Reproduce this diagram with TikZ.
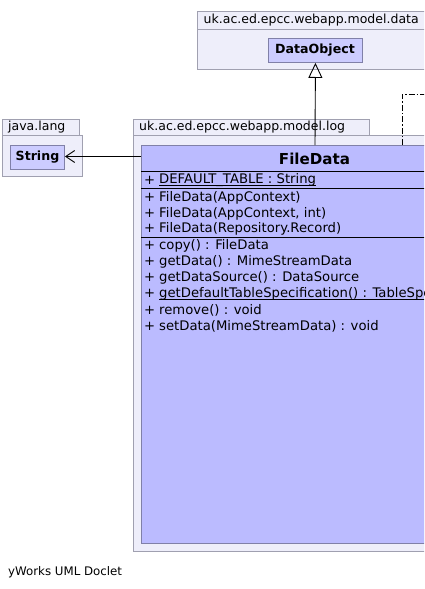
\documentclass[tikz,border=0pt]{standalone}
\usepackage{fontspec}
\setmainfont{DejaVu Sans}
\usetikzlibrary{arrows.meta}
\definecolor{pkgfill}{RGB}{238,238,250}
\definecolor{pkgdraw}{RGB}{160,160,176}
\definecolor{clsfill}{RGB}{187,187,255}
\definecolor{clsfillb}{RGB}{204,204,255}
\definecolor{clsdraw}{RGB}{128,128,168}
\tikzset{
  pkgbox/.style={draw=pkgdraw,fill=pkgfill,line width=0.8pt,anchor=north west,inner sep=0pt},
  pkgtab/.style={draw=pkgdraw,fill=pkgfill,line width=0.8pt,anchor=north west,inner sep=0pt},
  clsbox/.style={draw=clsdraw,fill=clsfillb,line width=0.9pt,anchor=north west,inner sep=0pt},
  bigcls/.style={draw=clsdraw,fill=clsfill,line width=0.9pt,anchor=north west,inner sep=0pt},
  clsname/.style={inner sep=0pt,font=\fontsize{12.6}{15}\selectfont\bfseries},
  txt/.style={anchor=west,inner sep=0pt,font=\fontsize{13.2}{16}\selectfont},
  pkgtxt/.style={anchor=west,inner sep=0pt,font=\fontsize{12.5}{15}\selectfont},
  foottxt/.style={anchor=west,inner sep=0pt,font=\fontsize{11.8}{14}\selectfont},
  sep/.style={line width=0.9pt,black},
  uline/.style={line width=0.8pt,black}
}
\newcommand{\pl}{\makebox[15pt][l]{+}}
\begin{document}
\begin{tikzpicture}[x=1pt,y=-1pt]
\useasboundingbox (0,0) rectangle (424,589);
\clip (0,0) rectangle (424,589);
% package model.data
\node[pkgbox,minimum width=260pt,minimum height=58pt] (pdata) at (197,11) {};
\draw[draw=pkgdraw,line width=0.8pt] (197,29) -- (460,29);
\node[pkgtxt] (pdatat) at (203.5,20) {uk.ac.ed.epcc.webapp.model.data};
\node[clsbox,minimum width=94pt,minimum height=24pt] (dobj) at (268,38) {};
\node[clsname] (dobjt) at (315,50) {DataObject};
% package java.lang
\node[pkgbox,minimum width=80pt,minimum height=41pt] (plang) at (2,135) {};
\node[pkgtab,minimum width=77pt,minimum height=16pt] (plangtab) at (2,119) {};
\node[pkgtxt] (plangt) at (8,127.5) {java.lang};
\node[clsbox,minimum width=54pt,minimum height=24pt] (str) at (10,145) {};
\node[clsname] (strt) at (37.5,157) {String};
% package model.log
\node[pkgbox,minimum width=320pt,minimum height=416pt] (plog) at (133,135) {};
\node[pkgtab,minimum width=236pt,minimum height=16pt] (plogtab) at (133,119) {};
\node[pkgtxt] (plogt) at (139,127.5) {uk.ac.ed.epcc.webapp.model.log};
% FileData
\node[bigcls,minimum width=310pt,minimum height=398pt] (fd) at (141,145) {};
\node[font=\fontsize{15.1}{18}\selectfont\bfseries,inner sep=0pt] (fdt) at (314.5,158.5) {FileData};
\draw[sep] (141,171) -- (452,171);
\node[txt] (a1p) at (144,180.5) {+};
\node[txt] (a1) at (159,180.5) {DEFAULT\_TABLE : String};
\draw[uline] ([yshift=-1.8pt]a1.base west) -- ([yshift=-1.8pt]a1.base east);
\draw[sep] (141,188) -- (452,188);
\node[txt] (c1) at (144,198) {\pl FileData(AppContext)};
\node[txt] (c2) at (144,213.5) {\pl FileData(AppContext, int)};
\node[txt] (c3) at (144,229) {\pl FileData(Repository.Record)};
\draw[sep] (141,237) -- (452,237);
\node[txt] (m1) at (144,246) {\pl copy() : FileData};
\node[txt] (m2) at (144,262) {\pl getData() : MimeStreamData};
\node[txt] (m3) at (144,278) {\pl getDataSource() : DataSource};
\node[txt] (m4p) at (144,293.5) {+};
\node[txt] (m4) at (159,293.5) {getDefaultTableSpecification() : TableSpecification};
\draw[uline] ([yshift=-2pt]m4.base west) -- ([yshift=-2pt]m4.base east);
\node[txt] (m5) at (144,310) {\pl remove() : void};
\node[txt] (m6) at (144,326) {\pl setData(MimeStreamData) : void};
% connectors
\coordinate (fdtop) at (315,145);
\draw[line width=0.9pt,-{Triangle[open,length=15pt,width=14pt]}] (fdtop) -- (dobj.south);
\coordinate (fdleft) at (141,156.5);
\draw[line width=0.9pt,-{Straight Barb[length=9pt,width=12pt]}] (fdleft) -- (str.east |- fdleft);
\coordinate (dd1) at (402,145);
\coordinate (dd2) at (402,94);
\coordinate (dd3) at (430,94);
\draw[line width=0.9pt,dash pattern=on 6pt off 2pt on 1.5pt off 2pt] (dd1) -- (dd2) -- (dd3);
% footer
\node[foottxt] (foot) at (8,572) {yWorks UML Doclet};
\end{tikzpicture}
\end{document}
